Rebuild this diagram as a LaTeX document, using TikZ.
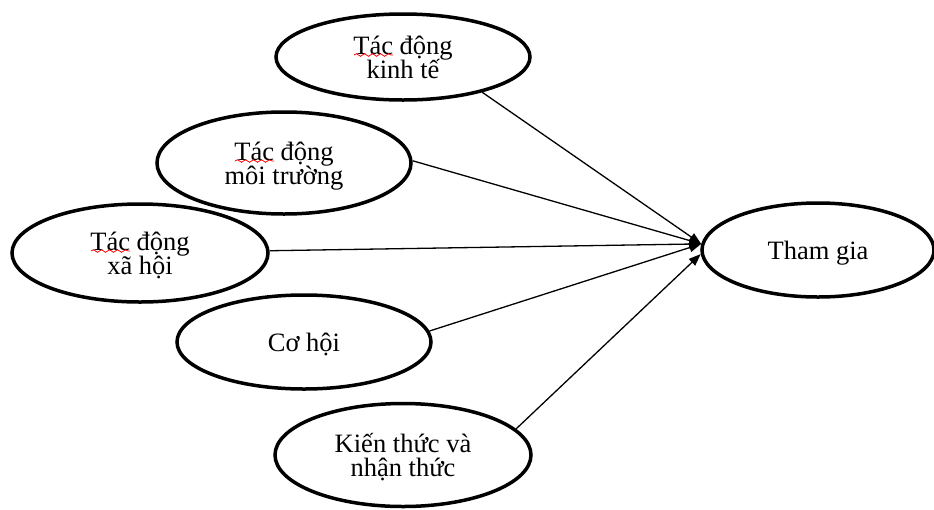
\documentclass[tikz,border=0pt]{standalone}
\usepackage{fontspec}
\setmainfont{Liberation Serif}
\usetikzlibrary{shapes.geometric,arrows.meta,decorations.pathmorphing}
\newcommand{\twol}[2]{\makebox[0pt]{\raisebox{3pt}[0pt][0pt]{#1}}\makebox[0pt]{\raisebox{-21pt}[0pt][0pt]{#2}}}
\newcommand{\onel}[1]{\makebox[0pt]{\raisebox{-9.5pt}[0pt][0pt]{#1}}}
\begin{document}
\begin{tikzpicture}[x=1pt,y=-1pt,
  ell/.style={ellipse,draw,line width=3.5pt,inner sep=0pt,font=\fontsize{26.5}{24}\selectfont},
  arr/.style={line width=1.3pt,-{Triangle[length=12pt,width=9pt]}},
  squig/.style={draw=red,line width=0.8pt,decorate,decoration={snake,segment length=8pt,amplitude=1.3pt}}]
\useasboundingbox (0,0) rectangle (934,509);
\node[ell,minimum width=254pt,minimum height=86pt] (kt) at (403,57) {\twol{Tác động}{kinh tế}};
\node[ell,minimum width=254pt,minimum height=102pt] (mt) at (284,163) {\twol{Tác động}{môi trường}};
\node[ell,minimum width=256pt,minimum height=98pt] (xh) at (140,253) {\twol{Tác động}{xã hội}};
\node[ell,minimum width=254pt,minimum height=94pt] (ch) at (304,342) {\onel{Cơ hội}};
\node[ell,minimum width=256pt,minimum height=103pt] (kn) at (403,455) {\twol{Kiến thức và}{nhận thức}};
\node[ell,minimum width=232pt,minimum height=94pt] (tg) at (818,250) {\onel{Tham gia}};
\draw[squig] ([shift={(-49,-2)}]kt.center) -- ([shift={(-10,-2)}]kt.center);
\draw[squig] ([shift={(-49,-2)}]mt.center) -- ([shift={(-10,-2)}]mt.center);
\draw[squig] ([shift={(-49,-2)}]xh.center) -- ([shift={(-10,-2)}]xh.center);
\draw[arr] (kt.-24) -- (tg.177);
\draw[arr] (mt.1) -- (tg.177);
\draw[arr] (xh.1) -- (tg.177);
\draw[arr] (ch.5) -- (tg.177);
\draw[arr] (kn.13) -- (tg.182);
\end{tikzpicture}
\end{document}
